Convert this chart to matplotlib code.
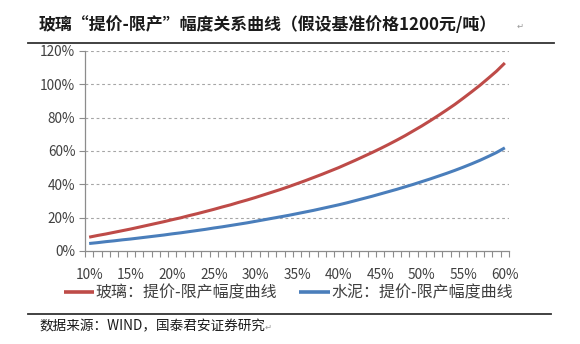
import matplotlib
matplotlib.use('Agg')
import matplotlib.pyplot as plt
from matplotlib.ticker import FixedLocator, PercentFormatter

plt.rcParams['font.family'] = ['Noto Sans CJK SC', 'DejaVu Sans']

TITLE = '玻璃“提价-限产”幅度关系曲线（假设基准价格1200元/吨）'
SOURCE = '数据来源：WIND，国泰君安证券研究'
GLASS_LABEL = '玻璃：提价-限产幅度曲线'
CEMENT_LABEL = '水泥：提价-限产幅度曲线'

# 限产幅度 (%), one category per 1%
cut = list(range(10, 61))
# 提价幅度 (%)
glass = [8.3, 9.3, 10.2, 11.2, 12.2, 13.2, 14.3, 15.4, 16.5, 17.6,
         18.8, 19.9, 21.2, 22.4, 23.7, 25.0, 26.4, 27.7, 29.2, 30.6,
         32.1, 33.7, 35.3, 36.9, 38.6, 40.4, 42.2, 44.1, 46.0, 48.0,
         50.0, 52.2, 54.4, 56.7, 59.0, 61.4, 63.9, 66.5, 69.2, 72.1,
         75.0, 78.1, 81.3, 84.6, 88.0, 91.7, 95.5, 99.4, 103.6, 107.9,
         112.8]
cement = [4.5, 5.0, 5.6, 6.1, 6.7, 7.2, 7.8, 8.4, 9.0, 9.6,
          10.3, 10.9, 11.6, 12.3, 13.0, 13.8, 14.5, 15.3, 16.1, 16.9,
          17.8, 18.7, 19.6, 20.5, 21.4, 22.4, 23.4, 24.4, 25.5, 26.6,
          27.7, 28.9, 30.2, 31.5, 32.8, 34.2, 35.6, 37.0, 38.5, 40.0,
          41.6, 43.2, 44.9, 46.6, 48.4, 50.3, 52.3, 54.4, 56.7, 59.1,
          61.9]
y_ticks = [0, 20, 40, 60, 80, 100, 120]
x_labels = [10, 15, 20, 25, 30, 35, 40, 45, 50, 55, 60]

RED = '#BE4B48'
BLUE = '#4A7EBB'
AXIS_GREY = '#8C8C8C'
TEXT_GREY = '#404040'

fig = plt.figure(figsize=(5.8, 3.44), dpi=100)
ax = fig.add_axes([85 / 580, 1 - 251 / 344, 424 / 580, 200 / 344])

ax.plot(cut, glass, color=RED, lw=2.2, solid_capstyle='butt', label=GLASS_LABEL)
ax.plot(cut, cement, color=BLUE, lw=2.2, solid_capstyle='butt', label=CEMENT_LABEL)

ax.set_xlim(cut[0] - 0.5, cut[-1] + 0.5)
ax.set_ylim(y_ticks[0], y_ticks[-1])

ax.set_yticks(y_ticks)
ax.yaxis.set_major_formatter(PercentFormatter(decimals=0))
ax.set_xticks(x_labels)
ax.set_xticklabels(['%d%%' % v for v in x_labels])
ax.xaxis.set_minor_locator(FixedLocator([c - 0.5 for c in cut] + [cut[-1] + 0.5]))

ax.tick_params(axis='x', which='major', length=0, pad=12, labelsize=9.8, labelcolor=TEXT_GREY)
ax.tick_params(axis='x', which='minor', length=4, width=0.8, color=AXIS_GREY, direction='out')
ax.tick_params(axis='y', length=4, width=0.8, color=AXIS_GREY, pad=3, labelsize=9.8, labelcolor=TEXT_GREY)

ax.grid(axis='y', color='#A6A6A6', ls=(0, (2.5, 2.5)), lw=0.8)
ax.get_ygridlines()[0].set_visible(False)  # no gridline on the 0% axis
ax.set_axisbelow(True)

for side in ('top', 'right'):
    ax.spines[side].set_visible(False)
for side in ('left', 'bottom'):
    ax.spines[side].set_color(AXIS_GREY)
    ax.spines[side].set_linewidth(0.9)

leg = fig.legend(loc='center', bbox_to_anchor=(0.497, 1 - 293 / 344), ncol=2, frameon=False,
                 fontsize=11.5, handlelength=1.9, handletextpad=0.1, columnspacing=1.4,
                 labelcolor=TEXT_GREY)
for line in leg.get_lines():
    line.set_linewidth(2.6)

title = fig.text(39 / 580, 1 - 25 / 344, TITLE, fontsize=12.2, fontweight='bold',
                 color='#1A1A1A', ha='left', va='center')
ax.annotate('↵', xy=(1, 0.5), xycoords=title, xytext=(14, -1), textcoords='offset points',
            fontsize=6, color='#999999', ha='left', va='center', annotation_clip=False)

fig.add_artist(plt.Line2D([28 / 580, 554 / 580], [1 - 43 / 344] * 2, color='#333333', lw=1.3))
fig.add_artist(plt.Line2D([28 / 580, 551 / 580], [1 - 314 / 344] * 2, color='#333333', lw=1.3))

source = fig.text(39 / 580, 1 - 326 / 344, SOURCE, fontsize=9.8, color='#1A1A1A',
                  ha='left', va='center')
ax.annotate('↵', xy=(1, 0.5), xycoords=source, xytext=(0, -1), textcoords='offset points',
            fontsize=6, color='#999999', ha='left', va='center', annotation_clip=False)

fig.savefig('out.png', dpi=100, facecolor='white')
